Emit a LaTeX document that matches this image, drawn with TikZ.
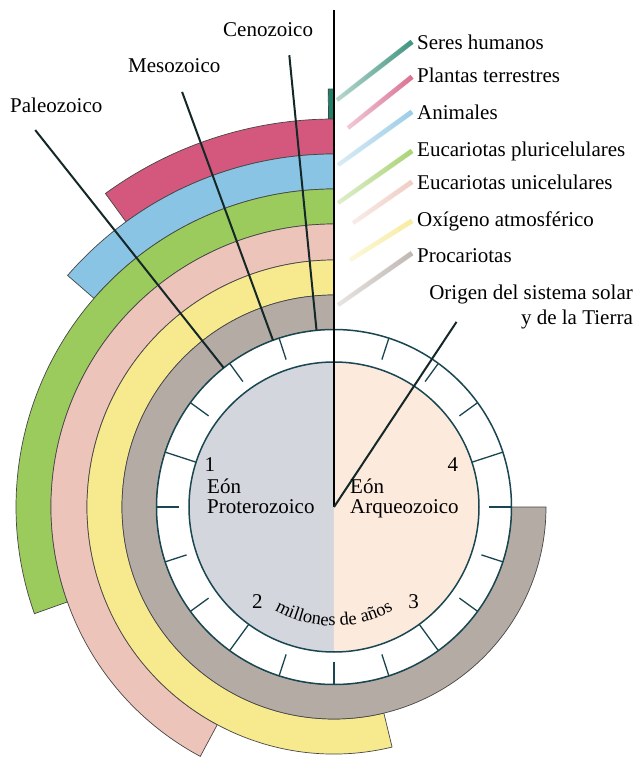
\documentclass[tikz,border=0pt]{standalone}
\usepackage{fontspec}
\setmainfont{Liberation Serif}
\usetikzlibrary{decorations.text,fadings}
\definecolor{cgray}{RGB}{181,171,165}
\definecolor{cyellow}{RGB}{247,233,142}
\definecolor{cpink}{RGB}{237,196,185}
\definecolor{cgreen}{RGB}{155,203,92}
\definecolor{cblue}{RGB}{138,196,228}
\definecolor{cmag}{RGB}{212,88,126}
\definecolor{cteal}{RGB}{30,130,105}
\definecolor{cleft}{RGB}{212,214,222}
\definecolor{cright}{RGB}{252,235,221}
\definecolor{cedge}{RGB}{70,70,70}
\definecolor{ccirc}{RGB}{25,70,80}
\definecolor{cline}{RGB}{20,40,40}
\newcommand{\RingSeg}[5]{%
  \filldraw[fill=#1,draw=cedge,line width=0.7pt]
    (#4:#2pt) arc[start angle=#4,end angle=#5,radius=#2pt]
    -- (#5:#3pt) arc[start angle=#5,end angle=#4,radius=#3pt] -- cycle;}
\newcommand{\Leader}[3]{%
  \draw[draw=#1,line width=4pt,opacity=0.3] (#2) -- (#3);
  \draw[draw=#1,line width=5pt,opacity=0.8,path fading=west] (#2) -- (#3);}
\begin{document}
\begin{tikzpicture}[x=1pt,y=1pt,
  lbl/.style={inner sep=0pt,font=\fontsize{21}{21}\selectfont},
  eraline/.style={draw=cline,line width=2pt},
  circ/.style={draw=ccirc,line width=1.5pt},
  tick/.style={draw=ccirc,line width=1.3pt}]
\useasboundingbox (-334,-251) rectangle (303,507);
\fill[white] (-334,-251) rectangle (303,507);
% rings
\RingSeg{cteal}{388}{418}{90}{90.8}
\RingSeg{cmag}{353}{388}{90}{126.1}
\RingSeg{cblue}{318}{353}{90}{139}
\RingSeg{cgreen}{283}{318}{90}{199.6}
\RingSeg{cpink}{247}{283}{90}{241.8}
\RingSeg{cyellow}{212}{247}{90}{283.6}
\RingSeg{cgray}{177.5}{212}{90}{360}
% white ring and inner disc
\fill[white] (0,0) circle[radius=177.5pt];
\fill[cleft] (0,0) -- (90:145pt) arc[start angle=90,end angle=270,radius=145pt] -- cycle;
\fill[cright] (0,0) -- (270:145pt) arc[start angle=270,end angle=450,radius=145pt] -- cycle;
% ticks
\foreach \a in {0,36,54,72,108,126,144,180,198,216,252,270,288,324,342}
  \draw[tick] (\a:155pt) -- (\a:177.5pt);
\foreach \a in {18,90,162,234,306}
  \draw[tick] (\a:145pt) -- (\a:177.5pt);
\draw[circ] (0,0) circle[radius=177.5pt];
\draw[circ] (0,0) circle[radius=145pt];
% era lines
\coordinate (o) at (0,0);
\coordinate (cz1) at (95.65:177.5pt);
\coordinate (cz2) at (95.65:454pt);
\coordinate (mz1) at (110.1:177.5pt);
\coordinate (mz2) at (110.1:442pt);
\coordinate (pz1) at (128.4:177.5pt);
\coordinate (pz2) at (128.4:481pt);
\coordinate (top) at (0,497);
\coordinate (orig) at (56.5:222pt);
\draw[eraline] (cz1) -- (cz2);
\draw[eraline] (mz1) -- (mz2);
\draw[eraline] (pz1) -- (pz2);
\draw[draw=black,line width=2.5pt] (o) -- (top);
\draw[eraline] (o) -- (orig);
% era labels
\node[lbl,anchor=base west] (ceno) at (-111,470) {Cenozoico};
\node[lbl,anchor=base west] (meso) at (-206,434) {Mesozoico};
\node[lbl,anchor=base west] (paleo) at (-324,394) {Paleozoico};
% right labels
\node[lbl,anchor=base west] (sh) at (83,457) {Seres humanos};
\node[lbl,anchor=base west] (pt) at (83,424) {Plantas terrestres};
\node[lbl,anchor=base west] (an) at (83,387) {Animales};
\node[lbl,anchor=base west] (ep) at (83,350) {Eucariotas pluricelulares};
\node[lbl,anchor=base west] (eu) at (83,317) {Eucariotas unicelulares};
\node[lbl,anchor=base west] (ox) at (83,280) {Oxígeno atmosférico};
\node[lbl,anchor=base west] (pr) at (83,244) {Procariotas};
\node[lbl,anchor=north east,align=right,font=\fontsize{21}{25}\selectfont] (og) at (299,222) {Origen del sistema solar\\y de la Tierra};
% leaders
\coordinate (l1) at (3,407);
\coordinate (l2) at (14,379);
\coordinate (l3) at (4,342);
\coordinate (l4) at (4,304);
\coordinate (l5) at (19,284);
\coordinate (l6) at (16,247);
\coordinate (l7) at (4,202);
\coordinate (e1) at ([xshift=-5pt,yshift=1pt]sh.west);
\coordinate (e2) at ([xshift=-5pt,yshift=-1pt]pt.west);
\coordinate (e3) at ([xshift=-5pt,yshift=1pt]an.west);
\coordinate (e4) at ([xshift=-5pt,yshift=1pt]ep.west);
\coordinate (e5) at ([xshift=-5pt,yshift=1pt]eu.west);
\coordinate (e6) at ([xshift=-5pt,yshift=1pt]ox.west);
\coordinate (e7) at ([xshift=-5pt,yshift=3pt]pr.west);
\Leader{cteal}{l1}{e1}
\Leader{cmag}{l2}{e2}
\Leader{cblue}{l3}{e3}
\Leader{cgreen}{l4}{e4}
\Leader{cpink}{l5}{e5}
\Leader{cyellow}{l6}{e6}
\Leader{cgray}{l7}{e7}
% inner labels
\node[lbl,anchor=base west,align=left,font=\fontsize{21}{20}\selectfont] (prot) at (-127,-6) {Eón\\Proterozoico};
\node[lbl,anchor=base west,align=left,font=\fontsize{21}{20}\selectfont] (arq) at (16,-6) {Eón\\Arqueozoico};
\node[lbl] (n1) at (-124,42) {1};
\node[lbl] (n4) at (119,42) {4};
\node[lbl] (n2) at (-76.5,-94.5) {2};
\node[lbl] (n3) at (79.5,-94.5) {3};
\path[decorate,decoration={text along path,text align=center,
  text={|\fontsize{18.5}{18.5}\selectfont|millones de años}}]
  (230:119pt) arc[start angle=230,end angle=310,radius=119pt];
\end{tikzpicture}
\end{document}
